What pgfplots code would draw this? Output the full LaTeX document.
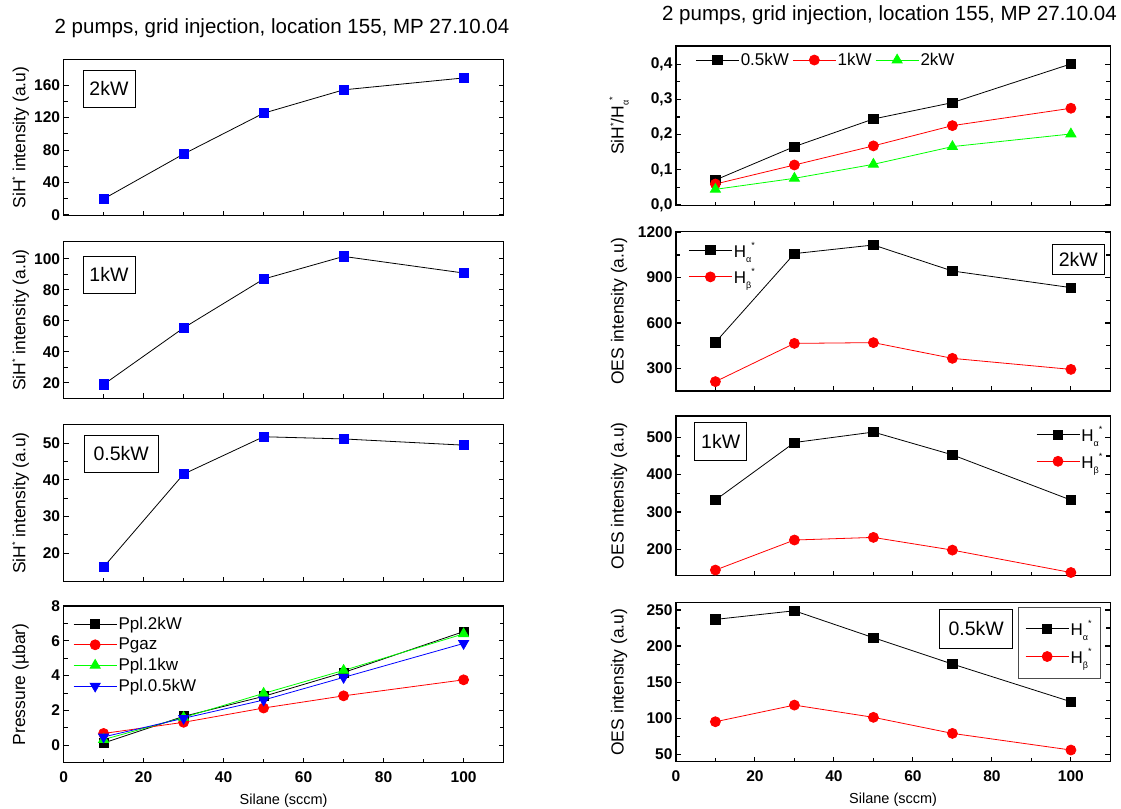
\documentclass[border=0pt]{standalone}
\usepackage{fontspec}
\setmainfont{Liberation Sans}
\usepackage{pgfplots}
\pgfplotsset{compat=1.18}
\newcommand{\sups}{\raisebox{7bp}{\fontsize{9bp}{9bp}\selectfont *}}
\newcommand{\Hx}[1]{H\raisebox{-5bp}{\fontsize{9bp}{9bp}\selectfont #1}\raisebox{9bp}{\fontsize{9bp}{9bp}\selectfont *}}
\tikzset{lbox/.style={draw, line width=0.8bp, fill=white, font=\fontsize{19.5bp}{19.5bp}\selectfont, inner sep=0pt, anchor=center}}
\pgfplotsset{
  panel/.style={
    scale only axis, clip=false,
    xmin=0, xmax=110, xtick={0,20,40,60,80,100}, minor x tick num=1,
    xtick pos=bottom, ytick pos=both, yticklabel pos=left,
    tick align=inside, major tick length=5bp, minor tick length=4bp,
    axis line style={line width=1.5bp},
    tick style={line width=1.1bp, black},
    tick label style={font=\fontsize{15.5bp}{15.5bp}\selectfont\bfseries},
    /pgf/number format/assume math mode=true,
    /pgf/number format/1000 sep={},
    y label style={font=\fontsize{17.5bp}{17.5bp}\selectfont, anchor=center},
    x label style={font=\fontsize{14.5bp}{14.5bp}\selectfont, at={(axis description cs:0.5,0)}, anchor=center, yshift=-38.5bp},
    xticklabel style={yshift=-5.5bp},
    legend style={draw=none, fill=none, font=\fontsize{17bp}{17bp}\selectfont, inner sep=0pt, outer sep=0pt, nodes={inner sep=1.5bp}},
    legend cell align=left,
    legend image code/.code={\draw[mark repeat=2,mark phase=2] plot coordinates {(0bp,0bp) (21.5bp,0bp) (43bp,0bp)};},
    every axis plot/.append style={line width=0.8bp},
  },
  leftp/.style={panel, at={(63.6bp,#1)}, anchor=south west, width=440bp,
     y label style={at={(axis description cs:-0.0977,0.5)}}},
  rightp/.style={panel, at={(675.9bp,#1)}, anchor=south west, width=434.5bp,
     y label style={at={(axis description cs:-0.131,0.5)}}},
  nox/.style={xticklabels={}},
  sib/.style={black, mark=square*, mark size=4.6bp, mark options={solid, blue, fill=blue}},
  ha/.style={black, mark=square*, mark size=4.6bp, mark options={solid, black, fill=black}},
  hb/.style={red, mark=*, mark size=5bp, mark options={solid, red, fill=red}},
}
\begin{document}
\begin{tikzpicture}
\path[use as bounding box] (0,0) rectangle (1121bp,809bp);
\node[font=\fontsize{20.5bp}{20.5bp}\selectfont] at (282bp,781bp) {2 pumps, grid injection, location 155, MP 27.10.04};
\node[font=\fontsize{20.5bp}{20.5bp}\selectfont] at (889.5bp,794bp) {2 pumps, grid injection, location 155, MP 27.10.04};

% L1 2kW
\begin{axis}[leftp=593.3bp, height=156.4bp, nox, ymin=-1, ymax=192, ytick={0,40,80,120,160}, minor y tick num=1,
  ylabel={SiH\sups{} intensity (a.u)}]
\addplot[sib] coordinates {(10,19.7) (30,75.1) (50,125.5) (70,154.3) (100,169)};
\node[lbox, minimum width=52bp, minimum height=37bp] at (rel axis cs:0.103,0.812) {2kW};
\end{axis}

% L2 1kW
\begin{axis}[leftp=410.7bp, height=156.6bp, nox, ymin=10, ymax=111, ytick={20,40,60,80,100}, minor y tick num=1,
  ylabel={SiH\sups{} intensity (a.u)}]
\addplot[sib] coordinates {(10,18.9) (30,55.4) (50,86.9) (70,101.5) (100,90.8)};
\node[lbox, minimum width=52bp, minimum height=37bp] at (rel axis cs:0.103,0.789) {1kW};
\end{axis}

% L3 0.5kW
\begin{axis}[leftp=227.3bp, height=157.4bp, nox, ymin=12.2, ymax=55.2, ytick={20,30,40,50}, minor y tick num=1,
  ylabel={SiH\sups{} intensity (a.u)}]
\addplot[sib] coordinates {(10,16.2) (30,41.6) (50,51.8) (70,51.2) (100,49.5)};
\node[lbox, minimum width=73.5bp, minimum height=37bp] at (rel axis cs:0.131,0.814) {0.5kW};
\end{axis}

% L4 pressure
\begin{axis}[leftp=46.3bp, height=156.7bp, ymin=-1, ymax=8, ytick={0,2,4,6,8}, minor y tick num=1,
  ylabel={Pressure (µbar)}, xlabel={Silane (sccm)},
  legend style={at={(axis description cs:0.022,0.686)}, anchor=west, row sep=4bp}]
\addplot[black, mark=square*, mark size=4.5bp, mark options={solid,black,fill=black}] coordinates {(10,0.13) (30,1.66) (50,2.81) (70,4.18) (100,6.53)};
\addlegendentry{Ppl.2kW}
\addplot[red, mark=*, mark size=5bp, mark options={solid,red,fill=red}] coordinates {(10,0.68) (30,1.32) (50,2.14) (70,2.84) (100,3.76)};
\addlegendentry{Pgaz}
\addplot[green, mark=triangle*, mark size=5.8bp, mark options={solid,green,fill=green}] coordinates {(10,0.33) (30,1.6) (50,2.98) (70,4.3) (100,6.4)};
\addlegendentry{Ppl.1kw}
\addplot[blue, mark=triangle*, mark size=5.8bp, mark options={solid,blue,fill=blue,rotate=180}] coordinates {(10,0.48) (30,1.55) (50,2.6) (70,3.9) (100,5.85)};
\addlegendentry{Ppl.0.5kW}
\end{axis}

% R1 ratio
\begin{axis}[rightp=603.3bp, height=159.7bp, nox, ymin=-0.002, ymax=0.452, ytick={0,0.1,0.2,0.3,0.4}, minor y tick num=1,
  yticklabel style={/pgf/number format/.cd, use comma, fixed, fixed zerofill, precision=1},
  ylabel={SiH\sups{}/H\raisebox{-5bp}{\fontsize{9bp}{9bp}\selectfont α}\raisebox{8bp}{\fontsize{9bp}{9bp}\selectfont *}},
  legend columns=3,
  legend style={at={(axis description cs:0.045,0.912)}, anchor=west, /tikz/every even column/.append style={column sep=2bp}}]
\addplot[black, mark=square*, mark size=4.6bp, mark options={solid,black,fill=black}] coordinates {(10,0.0711) (30,0.166) (50,0.2445) (70,0.291) (100,0.401)};
\addlegendentry{0.5kW}
\addplot[red, mark=*, mark size=5bp, mark options={solid,red,fill=red}] coordinates {(10,0.0597) (30,0.1137) (50,0.168) (70,0.2256) (100,0.275)};
\addlegendentry{1kW}
\addplot[green, mark=triangle*, mark size=5.8bp, mark options={solid,green,fill=green}] coordinates {(10,0.0445) (30,0.0758) (50,0.1156) (70,0.166) (100,0.2019)};
\addlegendentry{2kW}
\end{axis}

% R2 2kW
\begin{axis}[rightp=418bp, height=159.3bp, nox, ymin=150, ymax=1204, ytick={300,600,900,1200}, minor y tick num=1,
  ylabel={OES intensity (a.u)},
  legend style={at={(axis description cs:0.029,0.80)}, anchor=west, row sep=7bp}]
\addplot[ha] coordinates {(10,472) (30,1059) (50,1116) (70,944) (100,834)};
\addlegendentry{\Hx{α}}
\addplot[hb] coordinates {(10,212) (30,465) (50,470) (70,366) (100,293)};
\addlegendentry{\Hx{β}}
\node[lbox, minimum width=52.5bp, minimum height=30bp] at (rel axis cs:0.926,0.825) {2kW};
\end{axis}

% R3 1kW
\begin{axis}[rightp=233.3bp, height=159.7bp, nox, ymin=129.5, ymax=557, ytick={200,300,400,500}, minor y tick num=1,
  ylabel={OES intensity (a.u)},
  legend style={at={(axis description cs:0.829,0.80)}, anchor=west, row sep=7bp}]
\addplot[ha] coordinates {(10,332) (30,486) (50,514) (70,453) (100,332)};
\addlegendentry{\Hx{α}}
\addplot[hb] coordinates {(10,144.6) (30,225) (50,232) (70,198) (100,138)};
\addlegendentry{\Hx{β}}
\node[lbox, minimum width=52bp, minimum height=38bp] at (rel axis cs:0.103,0.839) {1kW};
\end{axis}

% R4 0.5kW
\begin{axis}[rightp=47.3bp, height=159bp, ymin=39.4, ymax=260.2, ytick={50,100,150,200,250}, minor y tick num=1,
  ylabel={OES intensity (a.u)}, xlabel={Silane (sccm)},
  legend style={at={(axis description cs:0.788,0.7485)}, anchor=west, row sep=8bp, draw=black!70, line width=0.8bp, inner xsep=7bp, inner ysep=12bp}]
\addplot[ha] coordinates {(10,237) (30,249) (50,211.6) (70,175) (100,122.7)};
\addlegendentry{\Hx{α}}
\addplot[hb] coordinates {(10,94.9) (30,118) (50,101) (70,78.7) (100,55.6)};
\addlegendentry{\Hx{β}}
\node[lbox, minimum width=73.5bp, minimum height=39bp] at (rel axis cs:0.691,0.836) {0.5kW};
\end{axis}
\end{tikzpicture}
\end{document}
